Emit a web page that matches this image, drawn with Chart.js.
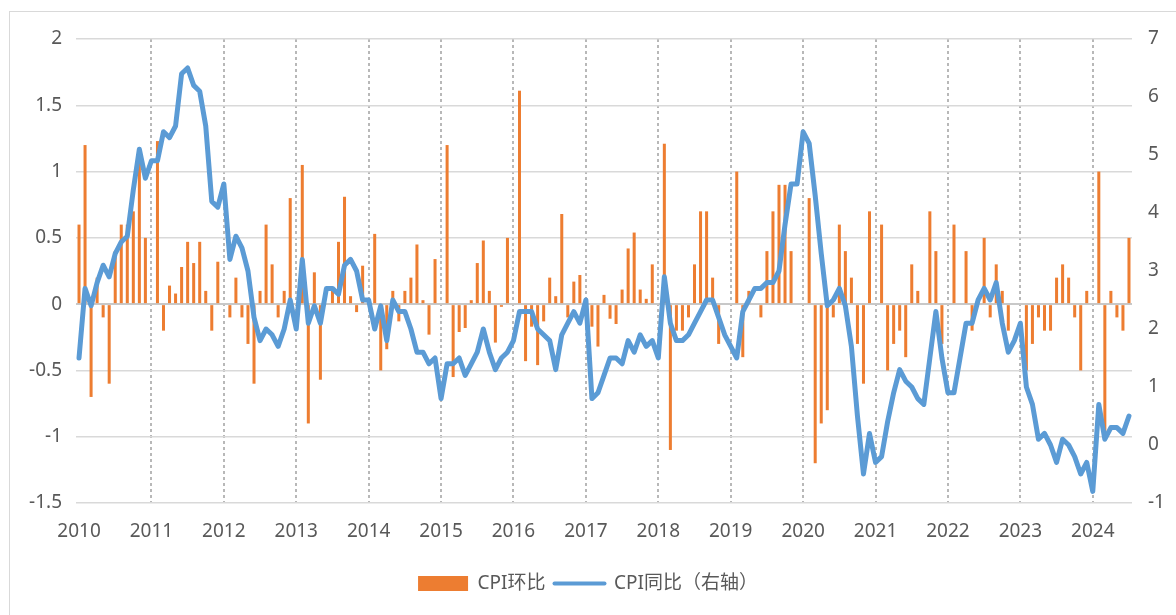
<!DOCTYPE html>
<html>
<head>
<meta charset="utf-8">
<script src="https://cdn.jsdelivr.net/npm/chart.js@4"></script>
<style>
  html, body { margin: 0; padding: 0; background: #fff; overflow: hidden; }
  #wrap { position: relative; width: 1176px; height: 615px; }
  #frame { position: absolute; left: 9px; top: 11px; width: 1200px; height: 640px; border: 1px solid #d9d9d9; }
  #chart { position: absolute; left: 0; top: 0; }
</style>
</head>
<body>
<div id="wrap">
  <div id="frame"></div>
  <canvas id="chart" width="1176" height="615"></canvas>
</div>
<script>
// 年份 (2010-01 ~ 2024-07, 月度)
const years = ['2010', '2011', '2012', '2013', '2014', '2015', '2016', '2017',
               '2018', '2019', '2020', '2021', '2022', '2023', '2024'];
const months = ['01', '02', '03', '04', '05', '06', '07', '08', '09', '10', '11', '12'];

// CPI环比 (%)，1月数据空缺
const cpiMoM = [
  0.6, 1.2, -0.7, 0.2, -0.1, -0.6, 0.4, 0.6, 0.6, 0.7, 1.1, 0.5,           // 2010
  null, 1.23, -0.2, 0.14, 0.08, 0.28, 0.47, 0.31, 0.47, 0.1, -0.2, 0.32,  // 2011
  null, -0.1, 0.2, -0.1, -0.3, -0.6, 0.1, 0.6, 0.3, -0.1, 0.1, 0.8,       // 2012
  null, 1.05, -0.9, 0.24, -0.57, 0.0, 0.1, 0.47, 0.81, 0.06, -0.06, 0.29, // 2013
  null, 0.53, -0.5, -0.34, 0.1, -0.13, 0.1, 0.2, 0.45, 0.03, -0.23, 0.34, // 2014
  null, 1.2, -0.55, -0.21, -0.18, 0.03, 0.31, 0.48, 0.1, -0.29, -0.02, 0.5, // 2015
  null, 1.61, -0.43, -0.17, -0.46, -0.13, 0.2, 0.06, 0.68, -0.1, 0.17, 0.22, // 2016
  null, -0.17, -0.32, 0.07, -0.11, -0.15, 0.11, 0.42, 0.54, 0.11, 0.04, 0.3, // 2017
  null, 1.21, -1.1, -0.2, -0.2, -0.1, 0.3, 0.7, 0.7, 0.2, -0.3, 0.0,      // 2018
  null, 1.0, -0.4, 0.1, 0.0, -0.1, 0.4, 0.7, 0.9, 0.9, 0.4, 0.0,          // 2019
  null, 0.8, -1.2, -0.9, -0.8, -0.1, 0.6, 0.4, 0.2, -0.3, -0.6, 0.7,      // 2020
  null, 0.6, -0.5, -0.3, -0.2, -0.4, 0.3, 0.1, 0.0, 0.7, 0.4, -0.3,       // 2021
  null, 0.6, 0.0, 0.4, -0.2, 0.0, 0.5, -0.1, 0.3, 0.1, -0.2, 0.0,         // 2022
  null, -0.5, -0.3, -0.1, -0.2, -0.2, 0.2, 0.3, 0.2, -0.1, -0.5, 0.1,     // 2023
  null, 1.0, -1.0, 0.1, -0.1, -0.2, 0.5                                   // 2024
];

// CPI同比 (%)，右轴
const cpiYoY = [
  1.5, 2.7, 2.4, 2.8, 3.1, 2.9, 3.3, 3.5, 3.6, 4.4, 5.1, 4.6,    // 2010
  4.9, 4.9, 5.4, 5.3, 5.5, 6.4, 6.5, 6.2, 6.1, 5.5, 4.2, 4.1,    // 2011
  4.5, 3.2, 3.6, 3.4, 3.0, 2.2, 1.8, 2.0, 1.9, 1.7, 2.0, 2.5,    // 2012
  2.0, 3.2, 2.1, 2.4, 2.1, 2.7, 2.7, 2.6, 3.1, 3.2, 3.0, 2.5,    // 2013
  2.5, 2.0, 2.4, 1.8, 2.5, 2.3, 2.3, 2.0, 1.6, 1.6, 1.4, 1.5,    // 2014
  0.8, 1.4, 1.4, 1.5, 1.2, 1.4, 1.6, 2.0, 1.6, 1.3, 1.5, 1.6,    // 2015
  1.8, 2.3, 2.3, 2.3, 2.0, 1.9, 1.8, 1.3, 1.9, 2.1, 2.3, 2.1,    // 2016
  2.5, 0.8, 0.9, 1.2, 1.5, 1.5, 1.4, 1.8, 1.6, 1.9, 1.7, 1.8,    // 2017
  1.5, 2.9, 2.1, 1.8, 1.8, 1.9, 2.1, 2.3, 2.5, 2.5, 2.2, 1.9,    // 2018
  1.7, 1.5, 2.3, 2.5, 2.7, 2.7, 2.8, 2.8, 3.0, 3.8, 4.5, 4.5,    // 2019
  5.4, 5.2, 4.3, 3.3, 2.4, 2.5, 2.7, 2.4, 1.7, 0.5, -0.5, 0.2,   // 2020
  -0.3, -0.2, 0.4, 0.9, 1.3, 1.1, 1.0, 0.8, 0.7, 1.5, 2.3, 1.5,  // 2021
  0.9, 0.9, 1.5, 2.1, 2.1, 2.5, 2.7, 2.5, 2.8, 2.1, 1.6, 1.8,    // 2022
  2.1, 1.0, 0.7, 0.1, 0.2, 0.0, -0.3, 0.1, 0.0, -0.2, -0.5, -0.3, // 2023
  -0.8, 0.7, 0.1, 0.3, 0.3, 0.2, 0.5                             // 2024
];

// 类别标签
const labels = [];
years.forEach(y => months.forEach(m => labels.push(y + '-' + m)));
labels.length = cpiYoY.length;

const textColor = '#595959';
const fontFamily = "'Noto Sans', 'Noto Sans CJK SC', sans-serif";

const chart = new Chart(document.getElementById('chart'), {
    type: 'bar',
    data: {
        labels: labels,
        datasets: [
            {
                type: 'line',
                label: 'CPI同比（右轴）',
                data: cpiYoY,
                yAxisID: 'y1',
                borderColor: '#5B9BD5',
                backgroundColor: '#5B9BD5',
                borderWidth: 5,
                pointRadius: 0,
                tension: 0,
                borderJoinStyle: 'round',
                borderCapStyle: 'round',
                order: 0
            },
            {
                type: 'bar',
                label: 'CPI环比',
                data: cpiMoM,
                yAxisID: 'y',
                backgroundColor: '#ED7D31',
                barPercentage: 0.5,
                categoryPercentage: 1.0,
                order: 1
            }
        ]
    },
    options: {
        responsive: false,
        animation: false,
        layout: { padding: { top: 39, left: 0, right: 0, bottom: 12 } },
        plugins: {
            tooltip: { enabled: false },
            legend: {
                position: 'bottom',
                labels: {
                    color: textColor,
                    font: { family: fontFamily, size: 19 },
                    usePointStyle: true,
                    pointStyleWidth: 50,
                    boxHeight: 15,
                    padding: 9,
                    generateLabels: () => [
                        { text: 'CPI环比', fillStyle: '#ED7D31', strokeStyle: '#ED7D31',
                          lineWidth: 0, pointStyle: 'rect', fontColor: textColor, datasetIndex: 1 },
                        { text: 'CPI同比（右轴）', fillStyle: '#5B9BD5', strokeStyle: '#5B9BD5',
                          lineWidth: 4, lineCap: 'round', pointStyle: 'line', fontColor: textColor, datasetIndex: 0 }
                    ]
                }
            }
        },
        scales: {
            x: {
                offset: true,
                grid: {
                    offset: false,
                    drawTicks: false,
                    // 每年1月画灰色虚线
                    color: c => (c.index > 0 && labels[c.index] && labels[c.index].endsWith('-01')) ? '#b8b8b8' : 'rgba(0,0,0,0)',
                    lineWidth: 2
                },
                border: { display: false, dash: [3, 3] },
                ticks: {
                    autoSkip: false,
                    maxRotation: 0,
                    padding: 17,
                    color: textColor,
                    font: { family: fontFamily, size: 19 },
                    callback: function (value) {
                        const lab = labels[value];
                        return lab.endsWith('-01') ? lab.slice(0, 4) : '';
                    }
                },
                afterFit: scale => { scale.height = 62; }
            },
            y: {
                position: 'left',
                min: -1.5,
                max: 2,
                ticks: {
                    stepSize: 0.5,
                    padding: 14,
                    color: textColor,
                    font: { family: fontFamily, size: 19 },
                    callback: v => String(Math.round(v * 10) / 10)
                },
                grid: {
                    drawTicks: false,
                    color: c => (c.tick && c.tick.value === 0) ? '#c8c8c8' : '#d9d9d9',
                    lineWidth: c => (c.tick && c.tick.value === 0) ? 2 : 1.5
                },
                border: { display: false },
                afterFit: scale => { scale.width = 76; }
            },
            y1: {
                position: 'right',
                min: -1,
                max: 7,
                ticks: {
                    stepSize: 1,
                    padding: 16,
                    color: textColor,
                    font: { family: fontFamily, size: 19 }
                },
                grid: { display: false, drawTicks: false },
                border: { display: false },
                afterFit: scale => { scale.width = 44; }
            }
        }
    }
});
</script>
</body>
</html>
